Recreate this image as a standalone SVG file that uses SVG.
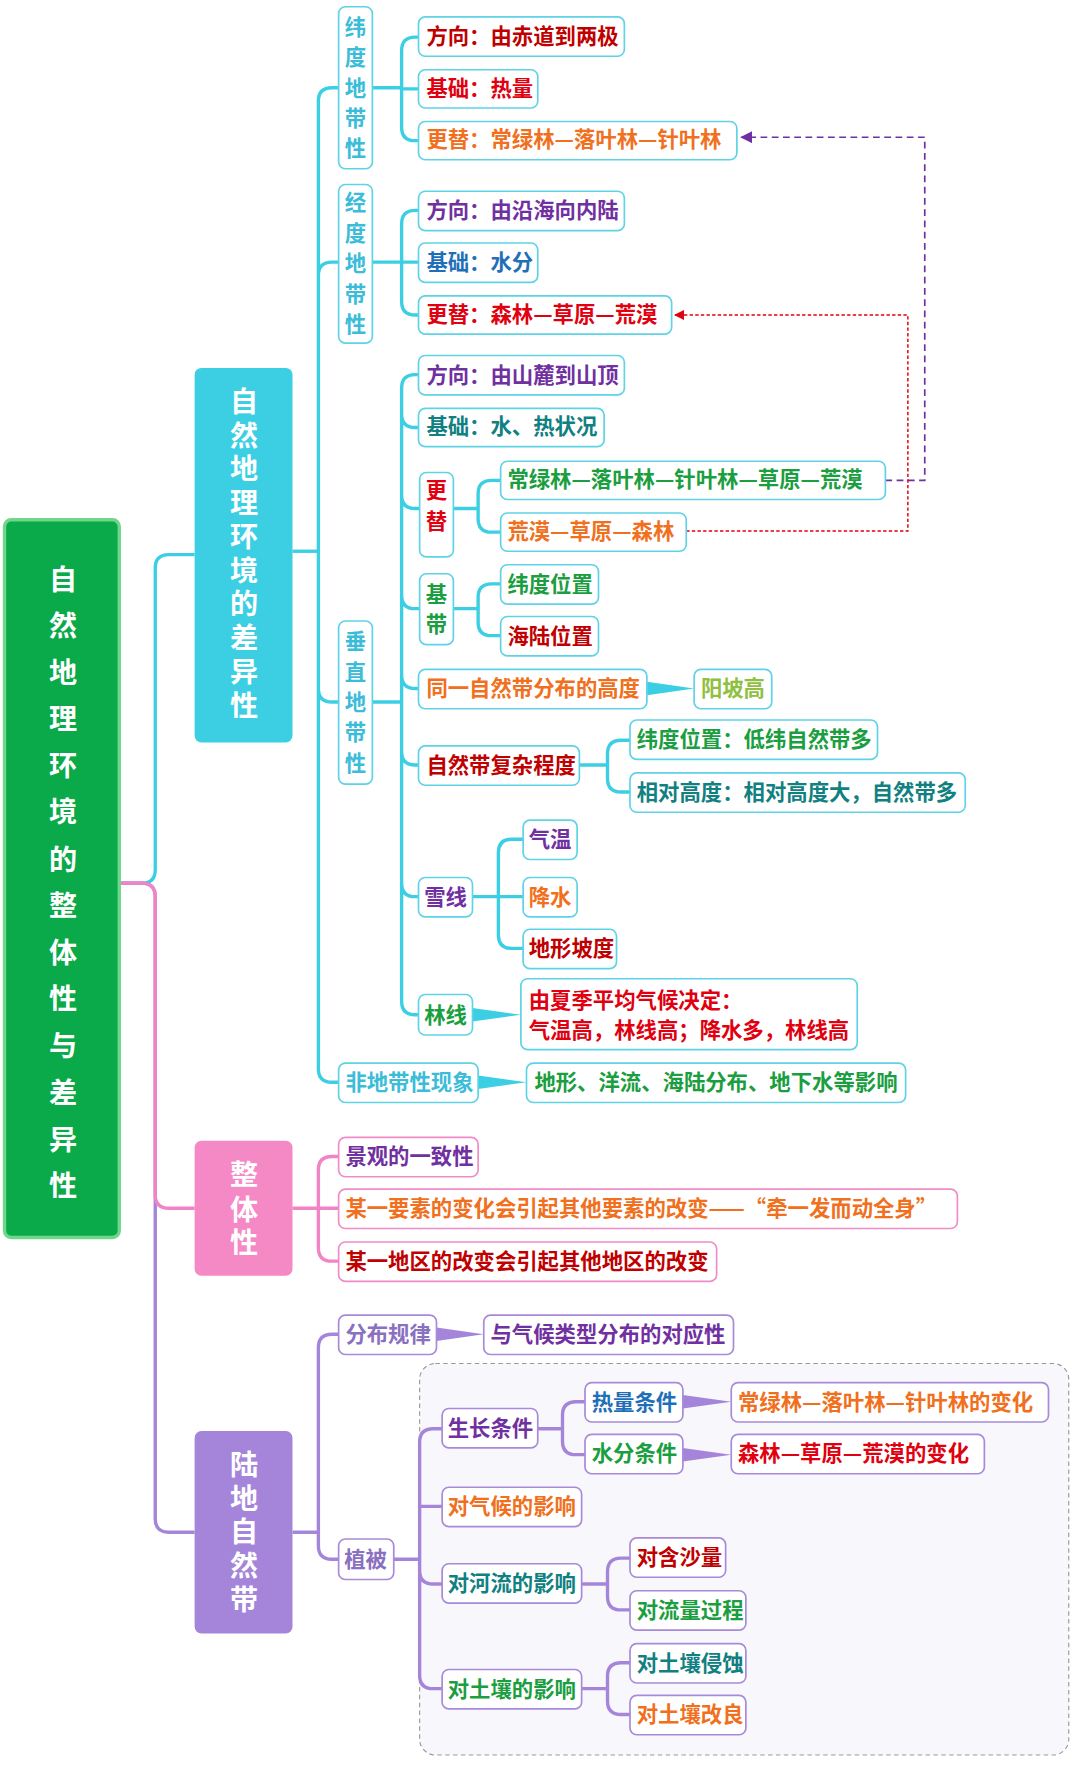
<svg xmlns="http://www.w3.org/2000/svg" width="1080" height="1773" viewBox="0 0 1080 1773">
<defs>
<style>
text{font-family:"Noto Sans CJK SC","Noto Sans",sans-serif;font-weight:bold;font-size:19px}
.bb{fill:#fff;stroke:#5fd3e6;stroke-width:1.5}
.pb{fill:#fff;stroke:#f08cc8;stroke-width:1.5}
.vb{fill:#fff;stroke:#a88ad8;stroke-width:1.5}
.bl{fill:none;stroke:#3ccfe4;stroke-width:3}
.pl{fill:none;stroke:#f283c4;stroke-width:3}
.ul{fill:none;stroke:#a585da;stroke-width:3}
.dr{fill:#c00000}.rd{fill:#e00010}.or{fill:#f07020}.pu{fill:#7030a0}.bu{fill:#1f6fb8}.te{fill:#108080}.gr{fill:#1a9e40}.lg{fill:#90c040}.lb{fill:#3bbcd8}.pg{fill:#8a70c0}
.big{font-size:25px;fill:#fff}
</style>
<marker id="ap" viewBox="0 0 10 10" refX="9" refY="5" markerWidth="7" markerHeight="7" orient="auto"><path d="M0,0L10,5L0,10z" fill="#7030a0"/></marker>
<marker id="ar" viewBox="0 0 10 10" refX="9" refY="5" markerWidth="7" markerHeight="7" orient="auto"><path d="M0,0L10,5L0,10z" fill="#e00010"/></marker>
</defs>
<g transform="scale(1.125)">
<rect x="373" y="1212" width="577" height="348" rx="14" fill="#f8f8fc" stroke="#999" stroke-width="1" stroke-dasharray="4,3"/>
<g id="connectors">
<path class="bl" d="M106,785 H126 Q138,785 138,773 V505 Q138,493 150,493 H173" stroke-width="4"/>
<path class="ul" d="M106,785 H126 Q138,785 138,797 V1350 Q138,1362 150,1362 H173" stroke-width="3"/>
<path class="pl" d="M106,785 H126 Q138,785 138,797 V1062 Q138,1074 150,1074 H173" stroke-width="4"/>
<path class="bl" d="M260,490 H283" stroke-width="6"/>
<path class="bl" d="M283,90 V950 M283,90 Q283,78 295,78 H301 M283,245 Q283,233 295,233 H301 M283,612 Q283,624 295,624 H301 M283,950 Q283,962 295,962 H301 M283,245 V233"/>
<path class="bl" d="M331,78 H357 M357,45 V113 M357,45 Q357,33 369,33 H372 M357,79 H372 M357,113 Q357,125 369,125 H372"/>
<path class="bl" d="M331,233 H357 M357,199 V268 M357,199 Q357,187 369,187 H372 M357,233 H372 M357,268 Q357,280 369,280 H372"/>
<path class="bl" d="M331,624 H357 M357,345 V890 M357,345 Q357,333 369,333 H372 M357,368 Q357,380 369,380 H372 M357,440 Q357,452 369,452 H373 M357,529 Q357,541 369,541 H373 M357,600 Q357,612 369,612 H372 M357,668 Q357,680 369,680 H372 M357,785 Q357,797 369,797 H372 M357,890 Q357,902 369,902 H372"/>
<path class="bl" d="M403,452 H425 M425,439 V461 M425,439 Q425,427 437,427 H445 M425,461 Q425,473 437,473 H445"/>
<path class="bl" d="M403,541 H425 M425,531 V553 M425,531 Q425,519 437,519 H445 M425,553 Q425,565 437,565 H445"/>
<path class="bl" d="M515,680 H540 M540,670 V692 M540,670 Q540,658 552,658 H560 M540,692 Q540,704 552,704 H560"/>
<path class="bl" d="M420,797 H443 M443,758 V831 M443,758 Q443,746 455,746 H465 M443,797 H465 M443,831 Q443,843 455,843 H465"/>
<polygon fill="#3ccfe4" points="575,606 575,618 617,612"/>
<polygon fill="#3ccfe4" points="420,896 420,908 463,902"/>
<polygon fill="#3ccfe4" points="425,956 425,968 468,962"/>
<path class="pl" d="M260,1074 H283 M283,1040 V1109 M283,1040 Q283,1028 295,1028 H301 M283,1074 H301 M283,1109 Q283,1121 295,1121 H301"/>
<path class="ul" d="M260,1362 H283 M283,1198 V1374 M283,1198 Q283,1186 295,1186 H301 M283,1374 Q283,1386 295,1386 H301" stroke-width="4"/>
<polygon fill="#a585da" points="388,1180 388,1192 430,1186"/>
<path class="ul" d="M350,1386 H373 M373,1282 V1489 M373,1282 Q373,1270 385,1270 H393 M373,1339 H393 M373,1396 Q373,1408 385,1408 H393 M373,1489 Q373,1501 385,1501 H393"/>
<path class="ul" d="M478,1270 H500 M500,1258 V1281 M500,1258 Q500,1246 512,1246 H520 M500,1281 Q500,1293 512,1293 H520"/>
<polygon fill="#a585da" points="607,1240 607,1252 650,1246"/>
<polygon fill="#a585da" points="607,1287 607,1299 650,1293"/>
<path class="ul" d="M517,1408 H540 M540,1397 V1419 M540,1397 Q540,1385 552,1385 H560 M540,1419 Q540,1431 552,1431 H560"/>
<path class="ul" d="M517,1501 H540 M540,1490 V1512 M540,1490 Q540,1478 552,1478 H560 M540,1512 Q540,1524 552,1524 H560"/>
<path fill="none" stroke="#7030a0" stroke-width="1.5" stroke-dasharray="6,4" d="M787,427 H822 V122 H659" marker-end="url(#ap)"/>
<path fill="none" stroke="#e00010" stroke-width="1.3" stroke-dasharray="3,2" d="M610,472 H807 V280 H600" marker-end="url(#ar)"/>
</g>
<g id="root"><rect x="4" y="462" width="102" height="638" rx="6" fill="#0aaa4a" stroke="#6fd68a" stroke-width="3"/>
<text class="big" font-size="30" text-anchor="middle"><tspan x="56" y="524">自</tspan><tspan x="56" y="565">然</tspan><tspan x="56" y="607">地</tspan><tspan x="56" y="648">理</tspan><tspan x="56" y="690">环</tspan><tspan x="56" y="731">境</tspan><tspan x="56" y="773">的</tspan><tspan x="56" y="814">整</tspan><tspan x="56" y="856">体</tspan><tspan x="56" y="897">性</tspan><tspan x="56" y="939">与</tspan><tspan x="56" y="980">差</tspan><tspan x="56" y="1022">异</tspan><tspan x="56" y="1063">性</tspan></text></g>
<g id="diff"><rect x="173" y="327" width="87" height="333" rx="6" fill="#3ccfe4"/>
<text class="big" text-anchor="middle"><tspan x="217" y="366">自</tspan><tspan x="217" y="396">然</tspan><tspan x="217" y="426">地</tspan><tspan x="217" y="456">理</tspan><tspan x="217" y="486">环</tspan><tspan x="217" y="516">境</tspan><tspan x="217" y="546">的</tspan><tspan x="217" y="576">差</tspan><tspan x="217" y="606">异</tspan><tspan x="217" y="636">性</tspan></text></g>
<g id="whole"><rect x="173" y="1014" width="87" height="120" rx="6" fill="#f589c6"/>
<text class="big" text-anchor="middle"><tspan x="217" y="1053">整</tspan><tspan x="217" y="1084">体</tspan><tspan x="217" y="1114">性</tspan></text></g>
<g id="land"><rect x="173" y="1272" width="87" height="180" rx="6" fill="#a585da"/>
<text class="big" text-anchor="middle"><tspan x="217" y="1311">陆</tspan><tspan x="217" y="1341">地</tspan><tspan x="217" y="1371">自</tspan><tspan x="217" y="1401">然</tspan><tspan x="217" y="1431">带</tspan></text></g>
<g id="wd"><rect class="bb" x="301" y="6" width="30" height="144" rx="6"/><text class="lb" text-anchor="middle"><tspan x="316" y="31">纬</tspan><tspan x="316" y="58">度</tspan><tspan x="316" y="85">地</tspan><tspan x="316" y="112">带</tspan><tspan x="316" y="139">性</tspan></text></g>
<g id="jd"><rect class="bb" x="301" y="164" width="30" height="141" rx="6"/><text class="lb" text-anchor="middle"><tspan x="316" y="187">经</tspan><tspan x="316" y="214">度</tspan><tspan x="316" y="241">地</tspan><tspan x="316" y="268">带</tspan><tspan x="316" y="295">性</tspan></text></g>
<g id="cz"><rect class="bb" x="301" y="552" width="30" height="145" rx="6"/><text class="lb" text-anchor="middle"><tspan x="316" y="577">垂</tspan><tspan x="316" y="604">直</tspan><tspan x="316" y="631">地</tspan><tspan x="316" y="658">带</tspan><tspan x="316" y="685">性</tspan></text></g>
<g id="fdd"><rect class="bb" x="301" y="945" width="124" height="35" rx="6"/><text class="lb" x="307" y="969">非地带性现象</text></g>
<g id="n1"><rect class="bb" x="372" y="15" width="183" height="35" rx="6"/><text class="dr" x="379" y="39">方向：由赤道到两极</text></g>
<g id="n2"><rect class="bb" x="372" y="62" width="106" height="34" rx="6"/><text class="rd" x="379" y="85">基础：热量</text></g>
<g id="n3"><rect class="bb" x="372" y="108" width="283" height="34" rx="6"/><text class="or" x="379" y="131">更替：常绿林—落叶林—针叶林</text></g>
<g id="n4"><rect class="bb" x="372" y="170" width="183" height="35" rx="6"/><text class="pu" x="379" y="194">方向：由沿海向内陆</text></g>
<g id="n5"><rect class="bb" x="372" y="216" width="106" height="35" rx="6"/><text class="bu" x="379" y="240">基础：水分</text></g>
<g id="n6"><rect class="bb" x="372" y="263" width="225" height="34" rx="6"/><text class="rd" x="379" y="286">更替：森林—草原—荒漠</text></g>
<g id="n7"><rect class="bb" x="372" y="316" width="183" height="35" rx="6"/><text class="pu" x="379" y="340">方向：由山麓到山顶</text></g>
<g id="n8"><rect class="bb" x="372" y="363" width="165" height="34" rx="6"/><text class="te" x="379" y="386">基础：水、热状况</text></g>
<g id="n9"><rect class="bb" x="373" y="420" width="30" height="75" rx="6"/><text class="rd" text-anchor="middle"><tspan x="388" y="443">更</tspan><tspan x="388" y="470">替</tspan></text></g>
<g id="n10"><rect class="bb" x="445" y="410" width="342" height="34" rx="6"/><text class="gr" x="451" y="433">常绿林—落叶林—针叶林—草原—荒漠</text></g>
<g id="n11"><rect class="bb" x="445" y="456" width="165" height="34" rx="6"/><text class="or" x="451" y="479">荒漠—草原—森林</text></g>
<g id="n12"><rect class="bb" x="373" y="510" width="30" height="63" rx="6"/><text class="gr" text-anchor="middle"><tspan x="388" y="535">基</tspan><tspan x="388" y="562">带</tspan></text></g>
<g id="n13"><rect class="bb" x="445" y="502" width="87" height="35" rx="6"/><text class="gr" x="451" y="526">纬度位置</text></g>
<g id="n14"><rect class="bb" x="445" y="548" width="87" height="35" rx="6"/><text class="dr" x="451" y="572">海陆位置</text></g>
<g id="n15"><rect class="bb" x="372" y="595" width="203" height="35" rx="6"/><text class="or" x="379" y="619">同一自然带分布的高度</text></g>
<g id="n16"><rect class="bb" x="617" y="595" width="69" height="35" rx="6"/><text class="lg" x="623" y="619">阳坡高</text></g>
<g id="n17"><rect class="bb" x="372" y="663" width="143" height="35" rx="6"/><text class="dr" x="379" y="687">自然带复杂程度</text></g>
<g id="n18"><rect class="bb" x="560" y="640" width="220" height="35" rx="6"/><text class="gr" x="566" y="664">纬度位置：低纬自然带多</text></g>
<g id="n19"><rect class="bb" x="560" y="687" width="298" height="35" rx="6"/><text class="te" x="566" y="711">相对高度：相对高度大，自然带多</text></g>
<g id="n20"><rect class="bb" x="372" y="780" width="48" height="35" rx="6"/><text class="pu" x="377" y="804">雪线</text></g>
<g id="n21"><rect class="bb" x="465" y="729" width="48" height="35" rx="6"/><text class="pu" x="470" y="753">气温</text></g>
<g id="n22"><rect class="bb" x="465" y="780" width="48" height="35" rx="6"/><text class="or" x="470" y="804">降水</text></g>
<g id="n23"><rect class="bb" x="465" y="826" width="83" height="35" rx="6"/><text class="dr" x="470" y="850">地形坡度</text></g>
<g id="n24"><rect class="bb" x="372" y="884" width="48" height="36" rx="6"/><text class="gr" x="377" y="909">林线</text></g>
<g id="n25"><rect class="bb" x="463" y="870" width="299" height="63" rx="6"/><text class="rd"><tspan x="470" y="896">由夏季平均气候决定：</tspan><tspan x="470" y="923">气温高，林线高；降水多，林线高</tspan></text></g>
<g id="n26"><rect class="bb" x="468" y="945" width="337" height="35" rx="6"/><text class="gr" x="475" y="969">地形、洋流、海陆分布、地下水等影响</text></g>
<g id="p1"><rect class="pb" x="301" y="1011" width="124" height="35" rx="6"/><text class="pu" x="307" y="1035">景观的一致性</text></g>
<g id="p2"><rect class="pb" x="301" y="1057" width="550" height="35" rx="6"/><text class="or" x="307" y="1081">某一要素的变化会引起其他要素的改变——“牵一发而动全身”</text></g>
<g id="p3"><rect class="pb" x="301" y="1104" width="336" height="35" rx="6"/><text class="dr" x="307" y="1128">某一地区的改变会引起其他地区的改变</text></g>
<g id="v1"><rect class="vb" x="301" y="1169" width="87" height="35" rx="6"/><text class="pg" x="307" y="1193">分布规律</text></g>
<g id="v2"><rect class="vb" x="430" y="1169" width="222" height="35" rx="6"/><text class="pu" x="436" y="1193">与气候类型分布的对应性</text></g>
<g id="v3"><rect class="vb" x="301" y="1368" width="49" height="36" rx="6"/><text class="pg" x="306" y="1393">植被</text></g>
<g id="v4"><rect class="vb" x="393" y="1252" width="85" height="35" rx="6"/><text class="pu" x="398" y="1276">生长条件</text></g>
<g id="v5"><rect class="vb" x="520" y="1229" width="87" height="35" rx="6"/><text class="bu" x="526" y="1253">热量条件</text></g>
<g id="v6"><rect class="vb" x="650" y="1229" width="282" height="35" rx="6"/><text class="or" x="656" y="1253">常绿林—落叶林—针叶林的变化</text></g>
<g id="v7"><rect class="vb" x="520" y="1275" width="87" height="35" rx="6"/><text class="gr" x="526" y="1299">水分条件</text></g>
<g id="v8"><rect class="vb" x="650" y="1275" width="225" height="35" rx="6"/><text class="rd" x="656" y="1299">森林—草原—荒漠的变化</text></g>
<g id="v9"><rect class="vb" x="393" y="1322" width="124" height="35" rx="6"/><text class="or" x="398" y="1346">对气候的影响</text></g>
<g id="v10"><rect class="vb" x="393" y="1390" width="124" height="35" rx="6"/><text class="te" x="398" y="1414">对河流的影响</text></g>
<g id="v11"><rect class="vb" x="560" y="1367" width="85" height="35" rx="6"/><text class="dr" x="566" y="1391">对含沙量</text></g>
<g id="v12"><rect class="vb" x="560" y="1414" width="103" height="35" rx="6"/><text class="gr" x="566" y="1438">对流量过程</text></g>
<g id="v13"><rect class="vb" x="393" y="1484" width="124" height="35" rx="6"/><text class="gr" x="398" y="1508">对土壤的影响</text></g>
<g id="v14"><rect class="vb" x="560" y="1461" width="103" height="35" rx="6"/><text class="te" x="566" y="1485">对土壤侵蚀</text></g>
<g id="v15"><rect class="vb" x="560" y="1507" width="103" height="35" rx="6"/><text class="or" x="566" y="1531">对土壤改良</text></g>
</g>
</svg>
